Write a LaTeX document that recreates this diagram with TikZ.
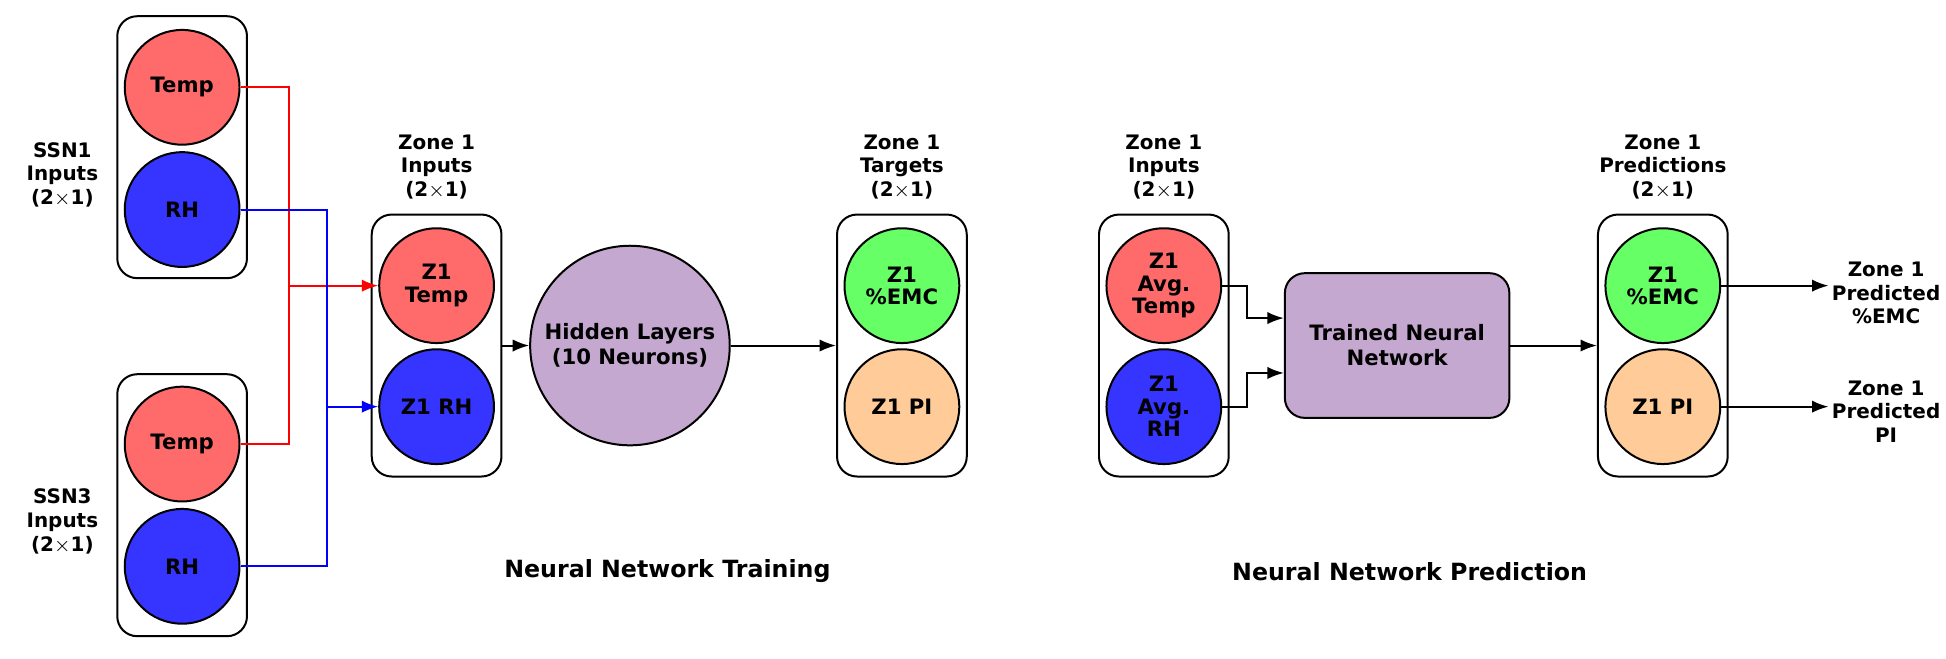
\documentclass[tikz,border=0pt]{standalone}
\usepackage{fontspec}
\setmainfont{DejaVu Sans}
\usepackage{tikz}
\usetikzlibrary{positioning}
\usetikzlibrary{arrows,arrows.meta}
\usetikzlibrary{shapes,shapes.geometric}
\definecolor{tempred}{HTML}{FF6B6B}
\definecolor{rhblue}{HTML}{3535FF}
\definecolor{emcgreen}{HTML}{66FF66}
\definecolor{piorange}{HTML}{FFCC99}
\definecolor{nnpurple}{HTML}{C4A8D0}
\tikzstyle{group} = [draw, thick, rounded corners=8pt, minimum width=52pt, minimum height=105pt]
\tikzstyle{var} = [draw, thick, ellipse, minimum width=46pt, minimum height=46pt, inner sep=0pt, align=center, font=\bfseries\fontsize{8.5}{9}\selectfont]
\tikzstyle{lbl} = [align=center, font=\bfseries\fontsize{8}{9.5}\selectfont]
\tikzstyle{title} = [font=\bfseries\fontsize{9.5}{11}\selectfont]

\begin{document}
\begin{tikzpicture}[x=0.5pt, y=-0.5pt, >=Latex, line width=0.8pt]
	\useasboundingbox (0,0) rectangle (1560,528);
	% training side
	\node [group] (ssnA) at (146,118) {};
	\node [var, fill=tempred] (tA) at (146,70) {Temp};
	\node [var, fill=rhblue] (rA) at (146,168) {RH};
	\node [lbl] at (50,140) {SSN1\\Inputs\\(2$\times$1)};
	\node [group] (ssnB) at (146,405) {};
	\node [var, fill=tempred] (tB) at (146,356) {Temp};
	\node [var, fill=rhblue] (rB) at (146,454) {RH};
	\node [lbl] at (50,418) {SSN3\\Inputs\\(2$\times$1)};

	\node [group] (zin) at (350,277) {};
	\node [var, fill=tempred] (zt) at (350,229) {Z1\\Temp};
	\node [var, fill=rhblue] (zr) at (350,326) {Z1 RH};
	\node [lbl, above=2pt of zin] {Zone 1\\Inputs\\(2$\times$1)};

	\node [draw, thick, circle, fill=nnpurple, minimum size=80pt, align=center, font=\bfseries\fontsize{8.5}{10}\selectfont] (hid) at (505,277) {Hidden Layers\\(10 Neurons)};

	\node [group] (ztg) at (723,277) {};
	\node [var, fill=emcgreen] (ze) at (723,229) {Z1\\\%EMC};
	\node [var, fill=piorange] (zp) at (723,326) {Z1 PI};
	\node [lbl, above=2pt of ztg] {Zone 1\\Targets\\(2$\times$1)};
	\node [title] at (535,458) {Neural Network Training};

	% prediction side
	\node [group] (pin) at (933,277) {};
	\node [var, fill=tempred] (pt) at (933,229) {Z1\\Avg.\\Temp};
	\node [var, fill=rhblue] (pr) at (933,326) {Z1\\Avg.\\RH};
	\node [lbl, above=2pt of pin] {Zone 1\\Inputs\\(2$\times$1)};

	\node [draw, thick, rounded corners=8pt, fill=nnpurple, minimum width=90pt, minimum height=58pt, align=center, font=\bfseries\fontsize{8.5}{10}\selectfont] (tnn) at (1120,277) {Trained Neural\\Network};

	\node [group] (pout) at (1333,277) {};
	\node [var, fill=emcgreen] (pe) at (1333,229) {Z1\\\%EMC};
	\node [var, fill=piorange] (pp) at (1333,326) {Z1 PI};
	\node [lbl, above=2pt of pout] {Zone 1\\Predictions\\(2$\times$1)};
	\node [lbl, inner sep=1pt] (oe) at (1512,235) {Zone 1\\Predicted\\\%EMC};
	\node [lbl, inner sep=1pt] (op) at (1512,330) {Zone 1\\Predicted\\PI};
	\node [title] at (1130,458) {Neural Network Prediction};

	\coordinate (redx) at (232,0);
	\coordinate (bluex) at (262,0);
	\draw [red] (tA.east) -| (redx |- tB.east) -- (tB.east);
	\draw [red, ->] (redx |- zt.west) -- (zt.west);
	\draw [blue] (rA.east) -| (bluex |- rB.east) -- (rB.east);
	\draw [blue, ->] (bluex |- zr.west) -- (zr.west);
	\draw [->] (zin) -- (hid);
	\draw [->] (hid) -- (ztg);
	\draw [->] (pt.east) -- ++(20,0) |- ([yshift=11pt]tnn.west);
	\draw [->] (pr.east) -- ++(20,0) |- ([yshift=-11pt]tnn.west);
	\draw [->] (tnn) -- (pout);
	\draw [->] (pe.east) -- (oe.west |- pe.east);
	\draw [->] (pp.east) -- (op.west |- pp.east);
\end{tikzpicture}
\end{document}
